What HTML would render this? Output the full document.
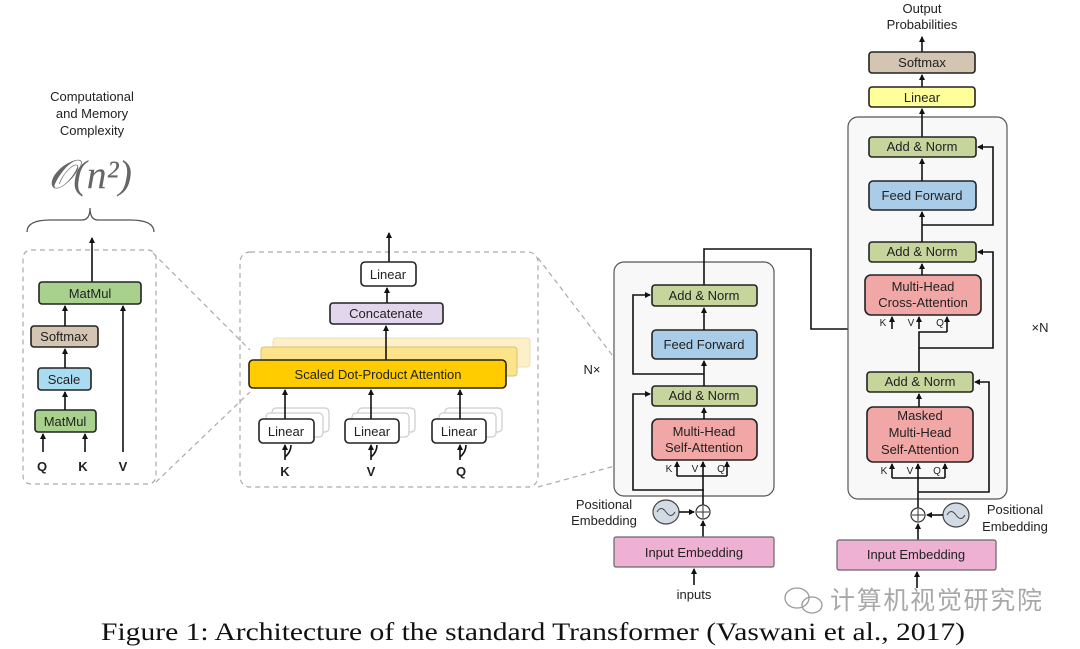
<!DOCTYPE html>
<html><head><meta charset="utf-8"><style>
html,body{margin:0;padding:0;background:#fff;}
svg{display:block;}
text{font-family:"Liberation Sans","Noto Sans CJK SC",sans-serif;fill:#222;}
.b{stroke:#222;stroke-width:1.6;}
.l{stroke:#111;stroke-width:1.6;fill:none;}
.t{font-size:13px;text-anchor:middle;}
.s{font-size:10px;text-anchor:middle;}
.d{stroke:#aaa;stroke-width:1.2;stroke-dasharray:5,4;fill:none;}
</style></head><body>
<svg width="1080" height="649" viewBox="0 0 1080 649" xmlns="http://www.w3.org/2000/svg">
<defs><marker id="a" markerWidth="6" markerHeight="6" refX="5" refY="3" orient="auto" markerUnits="userSpaceOnUse"><path d="M0,0 L6,3 L0,6 z" fill="#111"/></marker></defs>

<path class="d" d="M153,253 L250,350 M156,482 L250,392 M538,258 L658,415 M538,487 L655,455"/>

<!-- LEFT PANEL -->
<text x="92" y="101" class="t">Computational</text>
<text x="92" y="118" class="t">and Memory</text>
<text x="92" y="135" class="t">Complexity</text>
<text x="90" y="188" style="font-family:'Liberation Serif',serif;font-size:40px;font-style:italic;fill:#666;text-anchor:middle">𝒪(n²)</text>
<path d="M27,232 Q27,220 50,220 L82,220 Q90,220 90,208 Q90,220 98,220 L130,220 Q154,220 154,232" fill="none" stroke="#555" stroke-width="1.3"/>
<rect x="23" y="250" width="133" height="234" rx="8" fill="#fbfaf3" class="d"/>
<line class="l" x1="92" y1="282" x2="92" y2="238" marker-end="url(#a)"/>
<rect x="39" y="282" width="102" height="22" rx="3" fill="#a9d18e" class="b"/><text x="90" y="298" class="t">MatMul</text>
<rect x="31" y="326" width="67" height="21" rx="3" fill="#d3c5b1" class="b"/><text x="64" y="341" class="t">Softmax</text>
<rect x="38" y="368" width="53" height="22" rx="3" fill="#a9dcf0" class="b"/><text x="64" y="384" class="t">Scale</text>
<rect x="35" y="410" width="61" height="22" rx="3" fill="#a9d18e" class="b"/><text x="65" y="426" class="t">MatMul</text>
<line class="l" x1="65" y1="410" x2="65" y2="392" marker-end="url(#a)"/>
<line class="l" x1="65" y1="368" x2="65" y2="349" marker-end="url(#a)"/>
<line class="l" x1="65" y1="326" x2="65" y2="306" marker-end="url(#a)"/>
<line class="l" x1="123" y1="452" x2="123" y2="306" marker-end="url(#a)"/>
<line class="l" x1="43" y1="452" x2="43" y2="434" marker-end="url(#a)"/>
<line class="l" x1="85" y1="452" x2="85" y2="434" marker-end="url(#a)"/>
<text x="42" y="471" class="t" style="font-weight:bold">Q</text>
<text x="83" y="471" class="t" style="font-weight:bold">K</text>
<text x="123" y="471" class="t" style="font-weight:bold">V</text>

<!-- MIDDLE PANEL -->
<rect x="240" y="252" width="298" height="235" rx="10" fill="#faf9f4" class="d"/>
<line class="l" x1="389" y1="262" x2="389" y2="233" marker-end="url(#a)"/>
<rect x="361" y="262" width="55" height="24" rx="4" fill="#fff" class="b"/><text x="388" y="279" class="t">Linear</text>
<line class="l" x1="387" y1="303" x2="387" y2="288" marker-end="url(#a)"/>
<rect x="330" y="303" width="113" height="21" rx="3" fill="#e2d6ec" class="b"/><text x="386" y="318" class="t">Concatenate</text>
<rect x="273" y="338" width="257" height="29" rx="3" fill="#fdf0c8" stroke="#eadfb8"/>
<rect x="261" y="347" width="256" height="29" rx="3" fill="#fde38a" stroke="#d8c27a"/>
<line class="l" x1="386" y1="360" x2="386" y2="326" marker-end="url(#a)"/>
<rect x="249" y="360" width="257" height="28" rx="4" fill="#ffcc00" class="b"/><text x="378" y="379" class="t">Scaled Dot-Product Attention</text>
<g stroke="#ccc" fill="#fff" stroke-width="1.2">
<rect x="272" y="408" width="57" height="24" rx="4"/><rect x="266" y="413" width="57" height="24" rx="4"/>
<rect x="358" y="408" width="57" height="24" rx="4"/><rect x="352" y="413" width="57" height="24" rx="4"/>
<rect x="445" y="408" width="57" height="24" rx="4"/><rect x="439" y="413" width="57" height="24" rx="4"/>
</g>
<line class="l" x1="285" y1="419" x2="285" y2="390" marker-end="url(#a)"/>
<line class="l" x1="371" y1="419" x2="371" y2="390" marker-end="url(#a)"/>
<line class="l" x1="460" y1="419" x2="460" y2="390" marker-end="url(#a)"/>
<rect x="259" y="419" width="55" height="24" rx="4" fill="#fff" class="b"/><text x="286" y="436" class="t">Linear</text>
<rect x="345" y="419" width="54" height="24" rx="4" fill="#fff" class="b"/><text x="372" y="436" class="t">Linear</text>
<rect x="432" y="419" width="54" height="24" rx="4" fill="#fff" class="b"/><text x="459" y="436" class="t">Linear</text>
<line class="l" x1="285" y1="460" x2="285" y2="445" marker-end="url(#a)"/><path class="l" d="M285,457 Q291,452 291,445"/>
<line class="l" x1="371" y1="460" x2="371" y2="445" marker-end="url(#a)"/><path class="l" d="M371,457 Q377,452 377,445"/>
<line class="l" x1="460" y1="460" x2="460" y2="445" marker-end="url(#a)"/><path class="l" d="M460,457 Q466,452 466,445"/>
<text x="285" y="476" class="t" style="font-weight:bold">K</text>
<text x="371" y="476" class="t" style="font-weight:bold">V</text>
<text x="461" y="476" class="t" style="font-weight:bold">Q</text>

<!-- ENCODER -->
<text x="592" y="374" class="t">N×</text>
<rect x="614" y="262" width="160" height="234" rx="10" fill="#f8f8f8" stroke="#555" stroke-width="1.2"/>
<path class="l" d="M704,306 L704,249 L811,249 L811,329 L919,329"/>
<rect x="652" y="285" width="105" height="21" rx="3" fill="#c5d59b" class="b"/><text x="704" y="300" class="t">Add &amp; Norm</text>
<rect x="652" y="330" width="105" height="29" rx="4" fill="#a9cde9" class="b"/><text x="704" y="349" class="t">Feed Forward</text>
<rect x="652" y="386" width="105" height="20" rx="3" fill="#c5d59b" class="b"/><text x="704" y="400" class="t">Add &amp; Norm</text>
<rect x="652" y="419" width="105" height="41" rx="6" fill="#f1a7a5" class="b"/><text x="704" y="436" class="t">Multi-Head</text><text x="704" y="452" class="t">Self-Attention</text>
<line class="l" x1="704" y1="330" x2="704" y2="308" marker-end="url(#a)"/>
<line class="l" x1="704" y1="386" x2="704" y2="361" marker-end="url(#a)"/>
<line class="l" x1="704" y1="419" x2="704" y2="408" marker-end="url(#a)"/>
<path class="l" d="M704,374 L633,374 L633,295 L650,295" marker-end="url(#a)"/>
<path class="l" d="M704,490 L633,490 L633,394 L650,394" marker-end="url(#a)"/>
<line class="l" x1="703" y1="505" x2="703" y2="462" marker-end="url(#a)"/>
<path class="l" d="M677,476 L727,476"/>
<line class="l" x1="677" y1="476" x2="677" y2="462" marker-end="url(#a)"/>
<line class="l" x1="727" y1="476" x2="727" y2="462" marker-end="url(#a)"/>
<text x="669" y="472" class="s">K</text><text x="695" y="472" class="s">V</text><text x="721" y="472" class="s">Q</text>
<ellipse cx="666" cy="512" rx="13" ry="12" fill="#d2dae6" stroke="#444" stroke-width="1.2"/>
<path d="M657,512 Q661,505 666,512 Q671,519 675,512" fill="none" stroke="#444" stroke-width="1"/>
<line class="l" x1="679" y1="512" x2="694" y2="512" marker-end="url(#a)"/>
<circle cx="703" cy="512" r="7" fill="#fff" stroke="#333" stroke-width="1.2"/><path d="M697,512 H709 M703,506 V518" stroke="#333" stroke-width="1"/>
<text x="604" y="509" class="t">Positional</text><text x="604" y="525" class="t">Embedding</text>
<line class="l" x1="703" y1="537" x2="703" y2="521" marker-end="url(#a)"/>
<rect x="614" y="537" width="160" height="30" rx="2" fill="#eeb0d3" stroke="#666" stroke-width="1.2"/><text x="694" y="557" class="t">Input Embedding</text>
<line class="l" x1="694" y1="585" x2="694" y2="569" marker-end="url(#a)"/>
<text x="694" y="599" class="t">inputs</text>

<!-- DECODER -->
<text x="922" y="13" class="t">Output</text><text x="922" y="29" class="t">Probabilities</text>
<line class="l" x1="922" y1="52" x2="922" y2="37" marker-end="url(#a)"/>
<rect x="869" y="52" width="106" height="21" rx="3" fill="#d3c5b1" class="b"/><text x="922" y="67" class="t">Softmax</text>
<line class="l" x1="922" y1="87" x2="922" y2="75" marker-end="url(#a)"/>
<rect x="869" y="87" width="106" height="20" rx="3" fill="#ffff99" class="b"/><text x="922" y="102" class="t">Linear</text>
<text x="1040" y="332" class="t">×N</text>
<rect x="848" y="117" width="159" height="382" rx="10" fill="#f8f8f8" stroke="#555" stroke-width="1.2"/>
<line class="l" x1="922" y1="137" x2="922" y2="109" marker-end="url(#a)"/>
<rect x="869" y="137" width="107" height="20" rx="3" fill="#c5d59b" class="b"/><text x="922" y="151" class="t">Add &amp; Norm</text>
<rect x="869" y="181" width="107" height="29" rx="4" fill="#a9cde9" class="b"/><text x="922" y="200" class="t">Feed Forward</text>
<rect x="869" y="242" width="107" height="20" rx="3" fill="#c5d59b" class="b"/><text x="922" y="256" class="t">Add &amp; Norm</text>
<rect x="865" y="275" width="116" height="40" rx="6" fill="#f1a7a5" class="b"/><text x="923" y="291" class="t">Multi-Head</text><text x="923" y="307" class="t">Cross-Attention</text>
<rect x="867" y="372" width="106" height="20" rx="3" fill="#c5d59b" class="b"/><text x="920" y="386" class="t">Add &amp; Norm</text>
<rect x="867" y="407" width="106" height="55" rx="6" fill="#f1a7a5" class="b"/><text x="920" y="420" class="t">Masked</text><text x="920" y="437" class="t">Multi-Head</text><text x="920" y="454" class="t">Self-Attention</text>
<line class="l" x1="922" y1="181" x2="922" y2="159" marker-end="url(#a)"/>
<line class="l" x1="922" y1="242" x2="922" y2="212" marker-end="url(#a)"/>
<line class="l" x1="922" y1="275" x2="922" y2="264" marker-end="url(#a)"/>
<path class="l" d="M922,225 L993,225 L993,147 L978,147" marker-end="url(#a)"/>
<path class="l" d="M919,372 L919,348 L993,348 L993,252 L978,252" marker-end="url(#a)"/>
<path class="l" d="M919,348 L919,332 L947,332"/>
<line class="l" x1="947" y1="332" x2="947" y2="317" marker-end="url(#a)"/>
<line class="l" x1="892" y1="329" x2="892" y2="317" marker-end="url(#a)"/>
<line class="l" x1="919" y1="329" x2="919" y2="317" marker-end="url(#a)"/>
<text x="883" y="326" class="s">K</text><text x="911" y="326" class="s">V</text><text x="940" y="326" class="s">Q</text>
<line class="l" x1="919" y1="407" x2="919" y2="394" marker-end="url(#a)"/>
<line class="l" x1="918" y1="508" x2="918" y2="464" marker-end="url(#a)"/>
<path class="l" d="M892,478 L945,478"/>
<line class="l" x1="892" y1="478" x2="892" y2="464" marker-end="url(#a)"/>
<line class="l" x1="945" y1="478" x2="945" y2="464" marker-end="url(#a)"/>
<text x="884" y="474" class="s">K</text><text x="910" y="474" class="s">V</text><text x="937" y="474" class="s">Q</text>
<path class="l" d="M918,492 L989,492 L989,382 L975,382" marker-end="url(#a)"/>
<circle cx="918" cy="515" r="7" fill="#fff" stroke="#333" stroke-width="1.2"/><path d="M912,515 H924 M918,509 V521" stroke="#333" stroke-width="1"/>
<ellipse cx="956" cy="515" rx="13" ry="12" fill="#d2dae6" stroke="#444" stroke-width="1.2"/>
<path d="M947,515 Q951,508 956,515 Q961,522 965,515" fill="none" stroke="#444" stroke-width="1"/>
<line class="l" x1="943" y1="515" x2="927" y2="515" marker-end="url(#a)"/>
<text x="1015" y="514" class="t">Positional</text><text x="1015" y="531" class="t">Embedding</text>
<line class="l" x1="918" y1="540" x2="918" y2="524" marker-end="url(#a)"/>
<rect x="837" y="540" width="159" height="30" rx="2" fill="#eeb0d3" stroke="#666" stroke-width="1.2"/><text x="916" y="559" class="t">Input Embedding</text>
<line class="l" x1="917" y1="588" x2="917" y2="572" marker-end="url(#a)"/>

<!-- watermark -->
<g fill="none" stroke="#999" stroke-width="1.3">
<ellipse cx="797" cy="598" rx="12" ry="10"/><ellipse cx="812" cy="605" rx="10" ry="8"/>
</g>
<text x="830" y="609" textLength="212" style="font-size:25px;fill:#a8a8a8;font-family:'Noto Sans CJK SC',sans-serif">计算机视觉研究院</text>

<!-- caption -->
<text x="101" y="640" textLength="864" lengthAdjust="spacingAndGlyphs" style="font-family:'Liberation Serif',serif;font-size:25px;fill:#111">Figure 1: Architecture of the standard Transformer (Vaswani et al., 2017)</text>
</svg>
</body></html>
